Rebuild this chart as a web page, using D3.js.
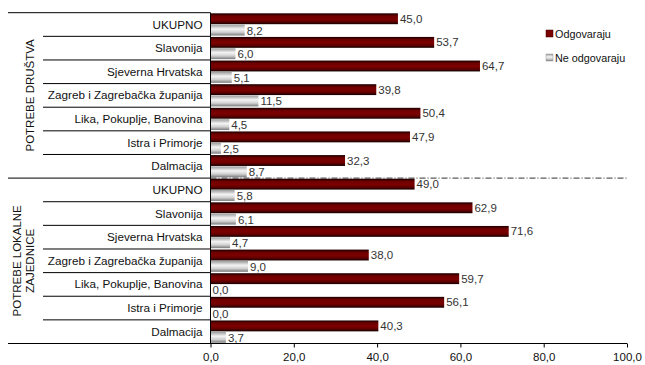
<!DOCTYPE html>
<html><head><meta charset="utf-8">
<script src="https://cdn.jsdelivr.net/npm/d3@7"></script>
<style>body{margin:0;background:#fff;} svg{display:block;font-family:"Liberation Sans",Arial,sans-serif;}</style>
</head><body><svg id="c" width="645" height="365"></svg>
<script>
const groups = ["POTREBE DRUŠTVA", "POTREBE LOKALNE ZAJEDNICE"];
const regions = ["UKUPNO","Slavonija","Sjeverna Hrvatska","Zagreb i Zagrebačka županija","Lika, Pokuplje, Banovina","Istra i Primorje","Dalmacija"];
const odgDrustva = [45.0,53.7,64.7,39.8,50.4,47.9,32.3];
const neDrustva = [8.2,6.0,5.1,11.5,4.5,2.5,8.7];
const odgLokalne = [49.0,62.9,71.6,38.0,59.7,56.1,40.3];
const neLokalne = [5.8,6.1,4.7,9.0,0.0,0.0,3.7];
const seriesNames = ["Odgovaraju","Ne odgovaraju"];
const xTicks = [0,20,40,60,80,100];

const rows = [];
regions.forEach((r,i)=>rows.push({g:0,key:"0-"+i,label:r,a:odgDrustva[i],b:neDrustva[i]}));
regions.forEach((r,i)=>rows.push({g:1,key:"1-"+i,label:r,a:odgLokalne[i],b:neLokalne[i]}));

const svg = d3.select("#c");
const x0 = 210.5, x1 = 627, yTop = 12.7, yBot = 343.5;
const x = d3.scaleLinear().domain([0,100]).range([x0,x1]);
const y = d3.scaleBand().domain(rows.map(d=>d.key)).range([yTop,yBot]).paddingInner(0).paddingOuter(0);
const sub = d3.scaleBand().domain(["a","b"]).range([0.6, y.bandwidth()-0.8]).paddingInner(0.04);
const fmt = v => d3.format(".1f")(v).replace(".",",");

const defs = svg.append("defs");
const gr = defs.append("linearGradient").attr("id","gr").attr("x1",0).attr("y1",0).attr("x2",0).attr("y2",1);
gr.append("stop").attr("offset","0%").attr("stop-color","#1a0000");
gr.append("stop").attr("offset","25%").attr("stop-color","#6e0000");
gr.append("stop").attr("offset","55%").attr("stop-color","#7c0000");
gr.append("stop").attr("offset","80%").attr("stop-color","#5a0000");
gr.append("stop").attr("offset","100%").attr("stop-color","#100000");
const gg = defs.append("linearGradient").attr("id","gg").attr("x1",0).attr("y1",0).attr("x2",0).attr("y2",1);
gg.append("stop").attr("offset","0%").attr("stop-color","#9a9a9a");
gg.append("stop").attr("offset","40%").attr("stop-color","#f4f4f4");
gg.append("stop").attr("offset","70%").attr("stop-color","#d0d0d0");
gg.append("stop").attr("offset","100%").attr("stop-color","#7a7a7a");

// bars
const rg = svg.append("g").selectAll("g").data(rows).join("g").attr("transform",d=>`translate(0,${y(d.key)})`);
rg.append("rect").attr("x",x(0)).attr("y",sub("a")).attr("width",d=>x(d.a)-x(0)).attr("height",sub.bandwidth()).attr("fill","url(#gr)");
rg.append("rect").attr("x",x(0)).attr("y",sub("b")).attr("width",d=>x(d.b)-x(0)).attr("height",sub.bandwidth()).attr("fill","url(#gg)");
rg.append("text").attr("x",d=>x(d.a)+2).attr("y",sub("a")+sub.bandwidth()/2+4).attr("font-size",11.5).attr("fill","#333").text(d=>fmt(d.a));
rg.append("text").attr("x",d=>x(d.b)+2).attr("y",sub("b")+sub.bandwidth()/2+4.5).attr("font-size",11.5).attr("fill","#333").text(d=>fmt(d.b));

// category labels
rg.append("text").attr("x",202.5).attr("y",y.bandwidth()/2+4).attr("text-anchor","end").attr("font-size",11.7).attr("fill","#111").text(d=>d.label);

// separators in left area
rows.forEach((d,i)=>{
  const yy = y(d.key);
  const full = (i % regions.length === 0);
  svg.append("line").attr("x1", full?8:43).attr("x2",x0).attr("y1",yy).attr("y2",yy).attr("stroke","#000").attr("stroke-width",1);
});
// group divider dash-dot across plot
const mid = y(rows[regions.length].key);
svg.append("line").attr("x1",x0).attr("x2",x1).attr("y1",mid).attr("y2",mid).attr("stroke","#333").attr("stroke-width",1).attr("stroke-dasharray","6,2,1,2");

// vertical axis line
svg.append("line").attr("x1",x0).attr("x2",x0).attr("y1",yTop).attr("y2",yBot).attr("stroke","#000");

// x axis
const ax = svg.append("g").attr("transform",`translate(0,${yBot})`)
  .call(d3.axisBottom(x).tickValues(xTicks).tickSize(4).tickFormat(fmt));
ax.select(".domain").remove();
ax.selectAll("text").attr("font-size",11.5).attr("fill","#111").attr("y",17).attr("dy",0).attr("font-family","Liberation Sans, Arial, sans-serif");
ax.selectAll("line").attr("stroke","#000");
svg.append("line").attr("x1",8).attr("x2",x1).attr("y1",yBot).attr("y2",yBot).attr("stroke","#000");

// group labels
svg.append("text").attr("transform",`translate(34,${(yTop+mid)/2}) rotate(-90)`).attr("text-anchor","middle").attr("font-size",11.5).attr("fill","#111").text(groups[0]);
const g2 = svg.append("text").attr("transform",`translate(21,${(mid+yBot)/2}) rotate(-90)`).attr("text-anchor","middle").attr("font-size",11.5).attr("fill","#111");
g2.append("tspan").attr("x",0).attr("dy",0).text("POTREBE LOKALNE");
g2.append("tspan").attr("x",0).attr("dy","1.15em").text("ZAJEDNICE");

// legend
const lg = svg.append("g").attr("transform","translate(546,30)");
seriesNames.forEach((n,i)=>{
  lg.append("rect").attr("x",0).attr("y",i*24).attr("width",7).attr("height",7).attr("fill",i===0?"#7c0000":"url(#gg)").attr("stroke",i===0?"#3a0000":"#999").attr("stroke-width",0.5);
  lg.append("text").attr("x",9).attr("y",i*24+7.5).attr("font-size",10.8).attr("fill","#111").text(n);
});
</script></body></html>
